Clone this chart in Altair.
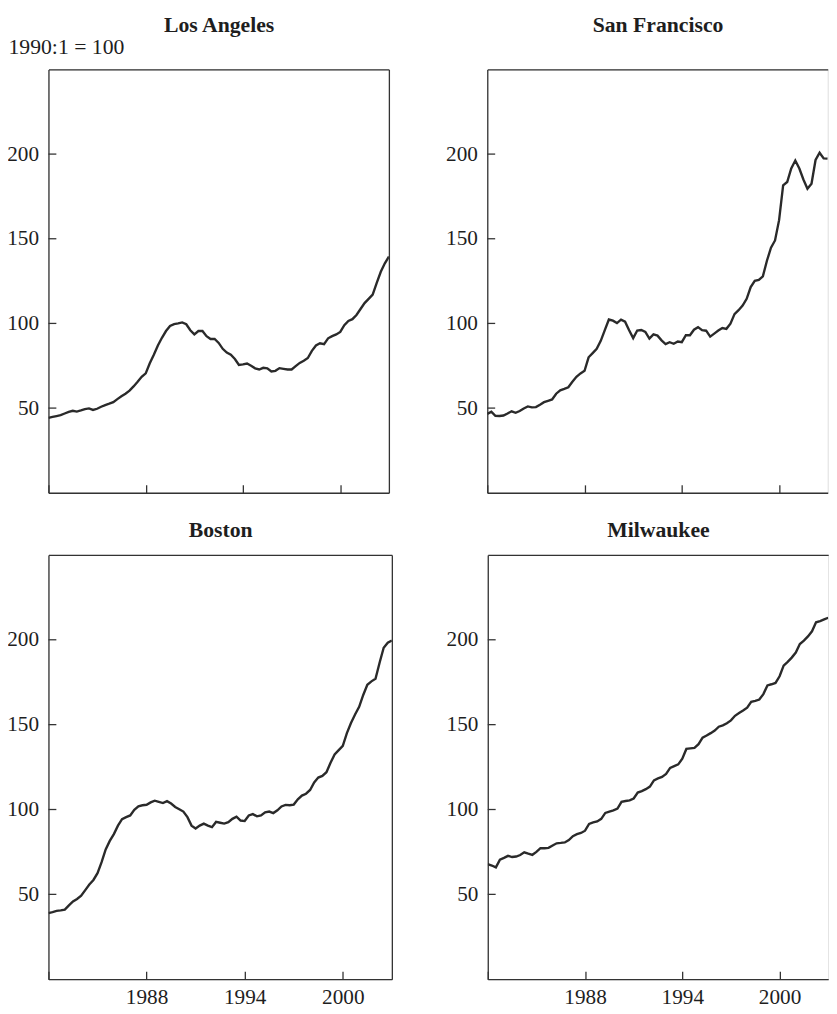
import altair as alt
import pandas as pd

# Quarterly time index 1982:1 ... 2003:1
quarters = [(1982 + i // 4, i % 4 + 1) for i in range(85)]
T = [y + (q - 1) / 4 for y, q in quarters]

los_angeles = [44.2, 44.8, 45.3, 45.8, 46.8, 47.8, 48.4, 47.9, 48.6, 49.4, 49.8, 48.9,
               49.6, 50.8, 51.8, 52.6, 53.5, 55.3, 57.0, 58.5, 60.3, 62.8, 65.5, 68.5,
               70.5, 76.5, 81.5, 87.0, 91.5, 95.5, 98.5, 99.6, 100.0, 100.6, 99.5, 96.0,
               93.5, 95.5, 95.5, 92.5, 90.8, 90.8, 88.5, 85.0, 82.8, 81.5, 79.0, 75.5,
               75.8, 76.3, 75.0, 73.5, 72.8, 73.8, 73.5, 71.6, 72.0, 73.6, 73.2, 72.8,
               72.8, 74.8, 76.7, 78.0, 79.6, 83.8, 87.0, 88.3, 87.8, 91.2, 92.5, 93.5,
               95.0, 99.0, 101.5, 102.5, 105.0, 108.5, 112.0, 114.5, 117.0, 124.0, 130.5,
               135.5, 139.5]
san_francisco = [46.5, 47.9, 45.4, 45.3, 45.6, 46.8, 48.1, 47.2, 48.3, 49.8, 51.0, 50.4,
                 50.6, 52.0, 53.5, 54.3, 55.1, 58.5, 60.5, 61.3, 62.3, 65.5, 68.5, 70.5,
                 72.0, 80.0, 82.5, 85.0, 89.7, 96.0, 102.3, 101.6, 100.2, 102.2, 101.0, 96.0,
                 91.3, 95.8, 96.1, 95.0, 91.0, 93.5, 92.8, 90.0, 87.8, 88.9, 88.0, 89.3,
                 88.9, 93.0, 93.0, 96.3, 97.8, 96.0, 95.7, 92.2, 94.0, 95.8, 97.3, 96.8,
                 99.8, 105.5, 107.8, 110.5, 114.5, 121.5, 125.2, 125.7, 127.8, 137.0, 144.7,
                 149.0, 161.0, 181.5, 183.5, 191.5, 196.2, 191.5, 185.0, 179.5, 182.5, 196.5,
                 200.8, 197.5, 197.3]
boston = [39.0, 39.6, 40.3, 40.6, 41.0, 43.5, 45.8, 47.3, 49.2, 52.5, 55.8, 58.5,
          62.5, 69.0, 76.5, 81.5, 85.5, 90.5, 94.3, 95.5, 96.5, 99.8, 101.9, 102.5,
          102.8, 104.2, 105.2, 104.5, 103.8, 104.9, 103.5, 101.5, 100.2, 98.8, 95.5, 90.5,
          88.8, 90.5, 91.7, 90.5, 89.6, 92.7, 92.2, 91.7, 92.5, 94.5, 95.8, 93.5,
          93.2, 96.5, 97.3, 96.0, 96.5, 98.3, 98.8, 97.9, 99.5, 101.8, 102.7, 102.5,
          102.9, 106.0, 108.2, 109.3, 111.5, 116.0, 118.8, 119.8, 122.0, 127.5, 132.4,
          135.0, 137.5, 145.0, 151.0, 156.0, 160.5, 167.5, 173.5, 175.5, 177.0, 186.5,
          195.3, 198.3, 199.6]
milwaukee = [67.8, 67.0, 65.9, 70.5, 71.5, 72.7, 72.0, 72.3, 73.2, 74.8, 74.0, 73.3,
             75.0, 77.2, 77.2, 77.4, 78.8, 80.1, 80.3, 80.6, 82.0, 84.3, 85.5, 86.2,
             87.5, 91.5, 92.4, 93.0, 94.5, 98.0, 98.8, 99.5, 100.5, 104.5, 105.0, 105.4,
             106.5, 110.0, 110.8, 112.0, 113.5, 117.2, 118.3, 119.2, 121.0, 124.5, 125.6,
             126.6, 130.0, 135.7, 136.0, 136.3, 138.5, 142.3, 143.6, 145.0, 146.5, 148.8,
             149.6, 150.8, 152.5, 155.2, 156.8, 158.3, 160.0, 163.4, 164.0, 164.8, 168.0,
             173.1, 173.8, 174.6, 178.5, 184.8, 187.0, 189.5, 192.5, 197.5, 199.5, 202.0,
             205.0, 210.3, 211.0, 212.0, 213.0]

x_ticks = [1982, 1988, 1994, 2000]
x_labels = [1988, 1994, 2000]
y_ticks = [50, 100, 150, 200]
x_domain = [1982, 2003]
y_domain = [0, 250]
y_note = "1990:1 = 100"

FONT = "Liberation Serif"
TXT = "#1e1e1e"
AX = "#333333"
LINE = "#2a2a2a"
TICK = 8
LBL = 21.5
TTL = 22


def panel(name, values, w, h, right_border, title_y, show_xlabels, ytitle=None):
    df = pd.DataFrame({"t": T, "v": values})
    xs = alt.Scale(domain=x_domain, nice=False, zero=False)
    ys = alt.Scale(domain=y_domain, nice=False, zero=False)
    base = alt.Chart(df)

    # layer A: the series; bottom axis (labels + bottom border); left axis (labels + left border)
    xa = alt.Axis(orient="bottom", values=x_labels, format="d", grid=False,
                  ticks=False, tickSize=0, domain=True, domainColor=AX, domainWidth=1.3,
                  labels=show_xlabels, labelFont=FONT, labelFontSize=LBL, labelColor=TXT,
                  labelBaseline="alphabetic", labelPadding=25, minExtent=0)
    ykw = dict(orient="left", values=y_ticks, grid=False, ticks=False, tickSize=0,
               domain=True, domainColor=AX, domainWidth=1.3, labelFont=FONT,
               labelFontSize=LBL, labelColor=TXT, labelPadding=10, minExtent=0)
    if ytitle:
        ykw.update(titleAngle=0, titleAlign="left", titleBaseline="alphabetic",
                   titleX=-41, titleY=-16, titleFont=FONT, titleFontSize=TTL,
                   titleFontWeight="normal", titleColor=TXT)
    main = base.mark_line(color=LINE, strokeWidth=2.4, clip=True).encode(
        x=alt.X("t:Q", scale=xs, axis=xa, title=None),
        y=alt.Y("v:Q", scale=ys, axis=alt.Axis(**ykw), title=ytitle if ytitle else None),
    )

    # layer B: inward x ticks (bottom axis pushed into the plot) + right border
    if right_border:
        yb = alt.Axis(orient="right", grid=False, domain=True, ticks=False,
                      labels=False, domainColor=AX, domainWidth=1.3, minExtent=0)
    else:
        yb = None
    layer_b = base.mark_line(opacity=0, clip=True).encode(
        x=alt.X("t:Q", scale=xs, title=None,
                axis=alt.Axis(orient="bottom", offset=-TICK, values=x_ticks, grid=False,
                              domain=False, labels=False, ticks=True, tickSize=TICK,
                              tickColor=AX, tickWidth=1.3, minExtent=0)),
        y=alt.Y("v:Q", scale=ys, title=None, axis=yb),
    )

    # layer C: top border with the city name
    layer_c = base.mark_line(opacity=0, clip=True).encode(
        x=alt.X("t:Q", scale=xs, title=name,
                axis=alt.Axis(orient="top", grid=False, domain=True, ticks=False,
                              labels=False, domainColor=AX, domainWidth=1.3, minExtent=0,
                              titleX=w / 2, titleY=title_y, titleAlign="center",
                              titleBaseline="alphabetic", titleAngle=0, titleFont=FONT,
                              titleFontSize=TTL, titleFontWeight="bold", titleColor=TXT)),
        y=alt.Y("v:Q", scale=ys, title=None, axis=None),
    )

    # layer D: inward y ticks on the left edge, placed by the y scale
    layer_d = alt.Chart(pd.DataFrame({"yt": y_ticks})).mark_rule(
        color=AX, strokeWidth=1.3
    ).encode(
        x=alt.value(0), x2=alt.value(TICK),
        y=alt.Y("yt:Q", scale=ys, axis=None),
    )
    return alt.layer(main, layer_b, layer_c, layer_d).resolve_axis(
        x="independent", y="independent"
    ).properties(width=w, height=h)


la = panel("Los Angeles", los_angeles, 345, 429, True, -38.2, False, ytitle=y_note)
sf = panel("San Francisco", san_francisco, 345, 429, False, -38.2, False)
bos = panel("Boston", boston, 348, 430, True, -18.4, True)
mil = panel("Milwaukee", milwaukee, 345, 430, False, -18.4, True)

top = alt.hconcat(la, sf, spacing=55.7)
bottom = alt.hconcat(bos, mil, spacing=53.2)
chart = alt.vconcat(top, bottom, spacing=24).properties(
    padding={"top": -1.5, "left": -2, "right": 0, "bottom": 0}
).configure_view(stroke="transparent").configure(background="white")

chart.save("out.html", embed_options={"renderer": "svg", "actions": False})
